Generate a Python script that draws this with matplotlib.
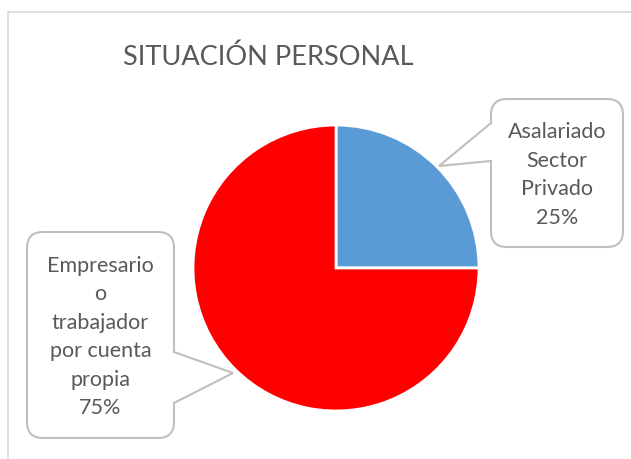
import matplotlib
matplotlib.use("Agg")
import matplotlib.pyplot as plt
from matplotlib.patches import FancyBboxPatch, Polygon

# data
categories = ["Asalariado\nSector\nPrivado", "Empresario\no\ntrabajador\npor cuenta\npropia"]
values = [25, 75]
colors = ["#5B9BD5", "#FF0000"]
title = "SITUACIÓN PERSONAL"

plt.rcParams["font.family"] = ["Lato", "DejaVu Sans"]
text_color = "#595959"
line_color = "#BFBFBF"

W, H = 631, 459
fig = plt.figure(figsize=(W / 100, H / 100), dpi=100)
fig.patch.set_facecolor("white")

# pie axes: center (336, 268) px, radius 143 px
cx, cy, r = 336, 268, 143
ax = fig.add_axes([(cx - r) / W, 1 - (cy + r) / H, 2 * r / W, 2 * r / H])
ax.pie(values, colors=colors, startangle=90, counterclock=False,
       wedgeprops=dict(edgecolor="white", linewidth=2))
ax.set_xlim(-1, 1)
ax.set_ylim(-1, 1)
ax.set_aspect("auto")
ax.axis("off")

# overlay in pixel coordinates for frame, title and callouts
ov = fig.add_axes([0, 0, 1, 1], zorder=5)
ov.set_xlim(0, W)
ov.set_ylim(H, 0)
ov.axis("off")
ov.patch.set_alpha(0)

ov.plot([8, W], [12, 12], color="#D9D9D9", lw=1.2)
ov.plot([8, 8], [12, H], color="#D9D9D9", lw=1.2)

ov.text(268, 57, title, ha="center", va="center", fontsize=19.5, color=text_color)


def callout(x0, y0, x1, y1, tip, base_a, base_b, side, text):
    box = FancyBboxPatch((x0, y0), x1 - x0, y1 - y0,
                         boxstyle="round,pad=0,rounding_size=16",
                         facecolor="white", edgecolor=line_color, lw=1.5, zorder=2)
    ov.add_patch(box)
    bx = x0 if side == "left" else x1
    inset = 2 if side == "left" else -2
    ov.add_patch(Polygon([(bx + inset, base_a), tip, (bx + inset, base_b)],
                         closed=True, facecolor="white", edgecolor="none", zorder=3))
    ov.plot([bx, tip[0], bx], [base_a, tip[1], base_b], color=line_color, lw=1.5,
            zorder=4, solid_joinstyle="miter")
    ov.text((x0 + x1) / 2, (y0 + y1) / 2 + 2, text, ha="center", va="center",
            fontsize=15.5, color=text_color, linespacing=1.53, zorder=5)


total = sum(values)
labels = [f"{c}\n{round(v / total * 100)}%" for c, v in zip(categories, values)]

callout(491, 99, 623, 247, (439, 166), 123, 161, "left", labels[0])
callout(27, 232, 174, 438, (233, 373), 352, 403, "right", labels[1])

fig.savefig("out.png", dpi=100)
